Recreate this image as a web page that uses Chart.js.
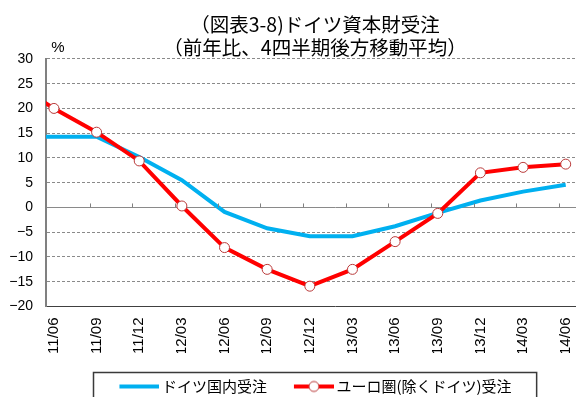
<!DOCTYPE html>
<html lang="ja">
<head>
<meta charset="utf-8">
<script src="https://cdn.jsdelivr.net/npm/chart.js@4/dist/chart.umd.min.js"></script>
<style>
  html, body { margin: 0; padding: 0; background: #fff; overflow: hidden; }
  #wrap { position: relative; width: 630px; height: 404px; }
</style>
</head>
<body>
<div id="wrap"><canvas id="chart"></canvas></div>
<script>
// Quarter labels (the first quarter sits just left of the plotted range)
const quarters = ['11/03', '11/06', '11/09', '11/12', '12/03', '12/06', '12/09', '12/12',
                  '13/03', '13/06', '13/09', '13/12', '14/03', '14/06'];

// German domestic capital goods orders, % y/y, 4-quarter trailing average
const domesticOrders = [14.3, 14.3, 14.3, 10.2, 5.5, -0.9, -4.2, -5.8, -5.8, -3.8, -1.1, 1.4, 3.2, 4.6];

// Orders from the euro area excluding Germany, % y/y, 4-quarter trailing average
const euroAreaOrders = [25.4, 20.0, 15.2, 9.4, 0.3, -8.1, -12.5, -15.9, -12.5, -6.9, -1.2, 7.0, 8.1, 8.75];

// Y axis range and step
const yMin = -20, yMax = 30, yStep = 5;

const titleLines = ['（図表3-8)ドイツ資本財受注', '（前年比、4四半期後方移動平均）'];
const seriesNames = ['ドイツ国内受注', 'ユーロ圏(除くドイツ)受注'];

const BLUE = '#00b0f0';
const RED = '#ff0000';
const MARKER_EDGE = '#b93a3a';

const toPoints = arr => arr.map((v, i) => ({ x: i, y: v }));

// Legend line samples
function makeSample(color, withMarker) {
  const c = document.createElement('canvas');
  c.width = 46; c.height = 14;
  const g = c.getContext('2d');
  g.strokeStyle = color; g.lineWidth = 4;
  g.beginPath(); g.moveTo(6, 7); g.lineTo(46, 7); g.stroke();
  if (withMarker) {
    g.beginPath(); g.arc(26, 7, 5, 0, Math.PI * 2);
    g.fillStyle = '#fff'; g.fill();
    g.lineWidth = 1; g.strokeStyle = MARKER_EDGE; g.stroke();
  }
  return c;
}
const samples = [makeSample(BLUE, false), makeSample(RED, true)];

// Frame around the legend, small marks on the zero line and the unit label
const decor = {
  id: 'decor',
  afterDraw(chart) {
    const { ctx, chartArea, scales } = chart;
    const x = scales.x, y = scales.y;
    const y0 = y.getPixelForValue(0);
    ctx.save();
    ctx.strokeStyle = '#808080';
    ctx.lineWidth = 1;
    for (let i = 2; i < quarters.length; i++) {
      const px = Math.round(x.getPixelForValue(i - 0.16)) + 0.5;
      ctx.beginPath(); ctx.moveTo(px, y0 - 4); ctx.lineTo(px, y0); ctx.stroke();
    }
    // unit label
    ctx.fillStyle = '#000';
    ctx.font = '15px "Liberation Sans", Arial, sans-serif';
    ctx.textAlign = 'center';
    ctx.textBaseline = 'middle';
    ctx.fillText('%', y.right + 12, chartArea.top - 11);
    // legend frame
    const hb = chart.legend.legendHitBoxes;
    if (hb && hb.length) {
      const first = hb[0], last = hb[hb.length - 1];
      const l = first.left - 25, r = last.left + last.width + 25, t = first.top - 7.5;
      ctx.strokeStyle = '#3a3a3a';
      ctx.lineWidth = 1.5;
      ctx.strokeRect(Math.round(l) + 0.5, Math.round(t) + 0.5, r - l, chart.height - t + 10);
    }
    ctx.restore();
  }
};

new Chart(document.getElementById('chart'), {
  type: 'line',
  data: {
    datasets: [
      {
        label: seriesNames[0],
        data: toPoints(domesticOrders),
        borderColor: BLUE,
        backgroundColor: BLUE,
        borderWidth: 4,
        pointRadius: 0,
        tension: 0,
        order: 1
      },
      {
        label: seriesNames[1],
        data: toPoints(euroAreaOrders),
        borderColor: RED,
        backgroundColor: '#fff',
        borderWidth: 4,
        pointRadius: 5,
        pointBackgroundColor: '#fff',
        pointBorderColor: MARKER_EDGE,
        pointBorderWidth: 1,
        tension: 0,
        order: 0
      }
    ]
  },
  options: {
    responsive: true,
    maintainAspectRatio: false,
    animation: false,
    events: [],
    layout: { padding: { left: 0, right: 0, top: 0, bottom: 0 } },
    plugins: {
      title: {
        display: true,
        text: titleLines,
        color: '#000',
        font: { family: '"Noto Sans CJK JP", sans-serif', size: 19.5, weight: 'normal', lineHeight: 1.19 },
        padding: { top: 12.5, bottom: 0 }
      },
      legend: {
        position: 'bottom',
        labels: {
          usePointStyle: true,
          pointStyleWidth: 36,
          boxHeight: 15,
          padding: 26,
          color: '#000',
          font: { family: '"Noto Sans CJK JP", sans-serif', size: 15 },
          generateLabels: chart => chart.data.datasets.map((ds, i) => ({
            text: ds.label,
            pointStyle: samples[i],
            fillStyle: ds.borderColor,
            strokeStyle: ds.borderColor,
            lineWidth: 0,
            hidden: false,
            datasetIndex: i,
            fontColor: '#000'
          }))
        }
      },
      tooltip: { enabled: false }
    },
    scales: {
      x: {
        type: 'linear',
        min: 0.814,
        max: 14.367,
        afterBuildTicks: scale => {
          scale.ticks = quarters.slice(1).map((q, i) => ({ value: i + 1 }));
        },
        afterFit: scale => { scale.height = 46.5; },
        ticks: {
          autoSkip: false,
          minRotation: 90,
          maxRotation: 90,
          padding: 11,
          color: '#000',
          font: { family: '"Liberation Sans", Arial, sans-serif', size: 15 },
          callback: v => quarters[v]
        },
        grid: { display: false, drawTicks: false },
        border: { display: true, color: '#404040', width: 1 }
      },
      y: {
        min: yMin,
        max: yMax,
        afterFit: scale => { scale.width = 46; },
        ticks: {
          stepSize: yStep,
          padding: 13,
          color: '#000',
          font: { family: '"Liberation Sans", Arial, sans-serif', size: 14 },
          callback: v => (v < 0 ? '\u2212' + Math.abs(v) : String(v))
        },
        grid: {
          color: '#8a8a8a',
          lineWidth: 1,
          drawTicks: false
        },
        border: {
          display: true,
          color: '#808080',
          width: 2,
          dash: ctx => (ctx.tick && ctx.tick.value === 0 ? [] : [3, 2])
        }
      }
    }
  },
  plugins: [decor]
});
</script>
</body>
</html>
